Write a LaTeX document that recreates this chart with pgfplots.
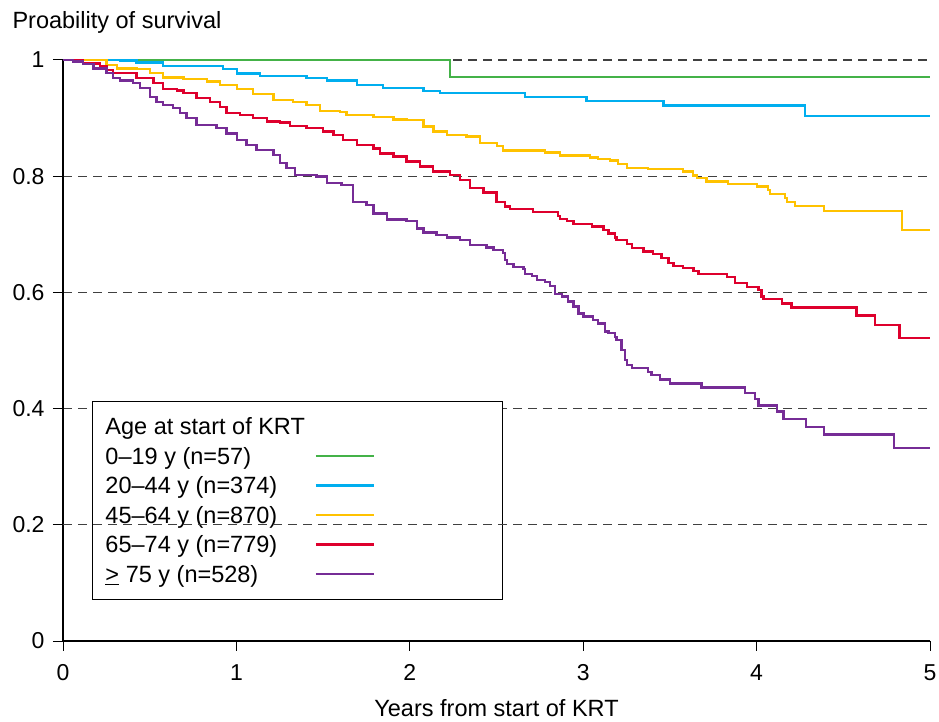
\documentclass[border=0pt]{standalone}
\usepackage{fontspec}
\setmainfont{Liberation Sans}
\usepackage{pgfplots}
\pgfplotsset{compat=1.18}
\definecolor{cgreen}{RGB}{68,178,72}
\definecolor{cblue}{RGB}{0,174,239}
\definecolor{cyellow}{RGB}{255,194,0}
\definecolor{cred}{RGB}{222,0,45}
\definecolor{cpurple}{RGB}{118,44,150}
\pgfplotsset{
  kmline/.style={const plot, line width=2.4bp,
    legend image code/.code={\draw[##1, line width=2.4bp] (9bp,0bp) -- (67bp,0bp); \path[draw=none,fill=none] (0bp,0bp) -- (185bp,0bp);}},
  griddash/.style={dash pattern=on 9bp off 6bp, black!75, line width=1.1bp},
}
\begin{document}
\begin{tikzpicture}
\path[use as bounding box] (-63bp,-81bp) rectangle (876bp,641bp);
\begin{axis}[
  at={(0,0)}, anchor=south west,
  scale only axis, width=867bp, height=581bp,
  xmin=0, xmax=5, ymin=0, ymax=1,
  xtick={0,1,2,3,4,5}, ytick={0,0.2,0.4,0.6,0.8,1},
  axis x line*=bottom, axis y line*=left,
  axis line style={black, line width=1.3bp, -},
  tick align=outside, major tick length=10bp,
  tick style={black, line width=1bp},
  ymajorgrids, major grid style={griddash},
  tick label style={font=\fontsize{23bp}{27bp}\selectfont},
  yticklabel style={xshift=-5bp},
  xticklabel style={yshift=-10bp},
  /pgf/number format/assume math mode=true,
  every axis y label/.style={at={(axis description cs:0,1)}, anchor=base west, xshift=-54bp, yshift=31.7bp},
  every axis x label/.style={at={(axis description cs:0.5,0)}, anchor=base, yshift=-75bp},
  label style={font=\fontsize{23.5bp}{28bp}\selectfont},
  ylabel={Proability of survival}, xlabel={Years from start of KRT},
  legend style={
    at={(0.03345,0.4131)}, anchor=north west,
    draw=black, line width=1bp, fill=white,
    font=\fontsize{23.5bp}{28bp}\selectfont,
    inner xsep=11bp, inner ysep=10bp, row sep=0bp,
    nodes={inner xsep=2bp, inner ysep=3.1bp, text height=20bp, text depth=3.4bp},
  },
  legend plot pos=right, legend cell align=left,
  no markers,
]
\addlegendimage{empty legend}
\addlegendentry{Age at start of KRT}
\addplot[kmline, cgreen] coordinates {(0,1) (2.232,0.9707) (5,0.9707)};
\addlegendentry{0--19 y (n=57)}
\addplot[kmline, cblue] coordinates {(0,1) (0.329,0.9988) (0.425,0.9954) (0.578,0.9897) (0.924,0.984) (1.002,0.977) (1.136,0.9725) (1.405,0.9695) (1.521,0.9644) (1.694,0.957) (1.847,0.9513) (2.078,0.947) (2.174,0.9437) (2.664,0.9368) (3.020,0.9294) (3.462,0.9214) (4.279,0.9036) (5,0.9036)};
\addlegendentry{20--44 y (n=374)}
\addplot[kmline, cyellow] coordinates {(0,1) (0.252,0.9914) (0.310,0.9857) (0.425,0.984) (0.502,0.9771) (0.578,0.9702) (0.694,0.9668) (0.829,0.9627) (0.905,0.957) (1.002,0.9496) (1.097,0.941) (1.213,0.9312) (1.328,0.9282) (1.405,0.9225) (1.482,0.9127) (1.597,0.911) (1.636,0.9053) (1.790,0.9014) (1.905,0.8979) (1.982,0.8967) (2.078,0.8852) (2.136,0.8766) (2.213,0.8709) (2.328,0.868) (2.405,0.857) (2.503,0.852) (2.537,0.8439) (2.780,0.8411) (2.866,0.8353) (3.039,0.8325) (3.085,0.8296) (3.155,0.8267) (3.201,0.821) (3.251,0.8146) (3.374,0.8119) (3.576,0.8078) (3.633,0.8009) (3.655,0.7964) (3.712,0.7906) (3.835,0.7866) (4.001,0.782) (4.066,0.7762) (4.077,0.7694) (4.164,0.762) (4.174,0.7561) (4.221,0.7492) (4.389,0.7406) (4.840,0.7074) (5,0.7074)};
\addlegendentry{45--64 y (n=870)}
\addplot[kmline, cred] coordinates {(0,1) (0.117,0.9943) (0.213,0.9897) (0.252,0.9828) (0.290,0.9771) (0.425,0.9685) (0.521,0.9599) (0.578,0.9496) (0.656,0.9472) (0.694,0.9427) (0.771,0.9341) (0.848,0.9282) (0.905,0.9196) (0.944,0.9083) (1.021,0.9053) (1.097,0.8997) (1.175,0.8938) (1.251,0.8921) (1.309,0.8864) (1.405,0.8825) (1.501,0.8766) (1.559,0.8709) (1.616,0.8623) (1.694,0.8537) (1.790,0.848) (1.828,0.8394) (1.905,0.8336) (1.982,0.825) (2.059,0.8164) (2.135,0.8078) (2.232,0.8021) (2.290,0.7935) (2.347,0.7792) (2.424,0.7716) (2.501,0.7561) (2.549,0.7475) (2.578,0.7435) (2.712,0.7379) (2.856,0.732) (2.866,0.7263) (2.905,0.7234) (2.943,0.7177) (3.049,0.7131) (3.116,0.7074) (3.145,0.7017) (3.183,0.6948) (3.193,0.6902) (3.251,0.6828) (3.280,0.6759) (3.347,0.6701) (3.404,0.6661) (3.452,0.6587) (3.491,0.6501) (3.520,0.6454) (3.577,0.6415) (3.635,0.6373) (3.664,0.6312) (3.828,0.627) (3.875,0.6157) (3.943,0.6098) (4.010,0.6041) (4.029,0.5926) (4.039,0.5886) (4.145,0.5812) (4.202,0.5743) (4.577,0.5599) (4.683,0.5439) (4.823,0.522) (5,0.522)};
\addlegendentry{65--74 y (n=779)}
\addplot[kmline, cpurple] coordinates {(0,1) (0.059,0.9971) (0.117,0.9931) (0.175,0.9857) (0.252,0.9771) (0.290,0.9685) (0.329,0.9644) (0.405,0.9599) (0.444,0.9513) (0.502,0.9368) (0.540,0.9282) (0.578,0.9225) (0.636,0.9169) (0.675,0.9083) (0.713,0.8997) (0.771,0.8881) (0.886,0.8825) (0.944,0.8738) (1.002,0.8623) (1.059,0.8537) (1.117,0.8451) (1.213,0.8365) (1.251,0.8222) (1.290,0.8136) (1.338,0.8021) (1.463,0.7992) (1.521,0.7878) (1.607,0.7849) (1.674,0.7561) (1.751,0.7504) (1.790,0.7361) (1.867,0.7258) (1.982,0.7234) (2.040,0.7103) (2.078,0.7028) (2.155,0.6988) (2.213,0.6948) (2.290,0.6902) (2.347,0.6816) (2.443,0.6773) (2.482,0.673) (2.539,0.6673) (2.549,0.6558) (2.559,0.6489) (2.597,0.6432) (2.655,0.6398) (2.664,0.6317) (2.703,0.6282) (2.732,0.6213) (2.780,0.6174) (2.808,0.611) (2.837,0.5972) (2.876,0.5926) (2.914,0.584) (2.943,0.5754) (2.972,0.564) (3.001,0.5582) (3.058,0.5525) (3.087,0.5468) (3.126,0.5324) (3.145,0.5296) (3.183,0.5237) (3.193,0.5181) (3.222,0.5009) (3.241,0.4836) (3.251,0.475) (3.280,0.4694) (3.375,0.4635) (3.395,0.4578) (3.443,0.4504) (3.501,0.4435) (3.683,0.4363) (3.933,0.4269) (3.991,0.4165) (4.010,0.405) (4.116,0.3947) (4.154,0.3816) (4.285,0.3688) (4.390,0.3551) (4.792,0.3317) (5,0.3317)};
\addlegendentry{\underline{>} 75 y (n=528)}
\end{axis}
\begin{axis}[
  at={(0,0)}, anchor=south west,
  scale only axis, width=867bp, height=581bp,
  xmin=0, xmax=5, ymin=0, ymax=1, hide axis,
]
\addplot[griddash] coordinates {(0,0.2) (5,0.2)};
\end{axis}
\end{tikzpicture}
\end{document}
